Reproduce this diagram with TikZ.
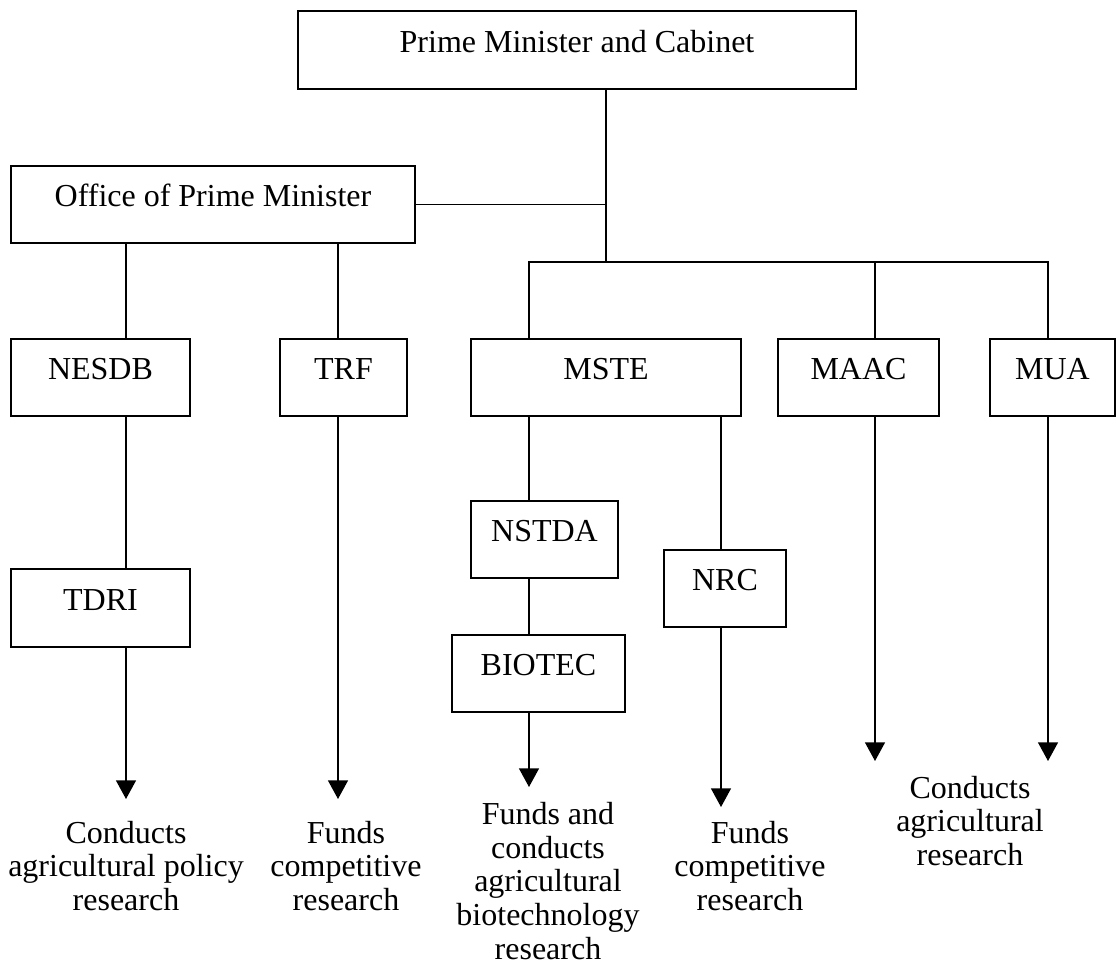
\documentclass[tikz,border=0pt]{standalone}
\usepackage{fontspec}
\setmainfont{Liberation Serif}
\usepackage{tikz}
\usetikzlibrary{arrows.meta}
\tikzset{
	unit/.style={draw, line width=0.75pt, inner xsep=0pt, inner ysep=0pt, text height=15.3pt, text depth=13.6pt, font=\fontsize{12}{12.6}\selectfont},
	link/.style={line width=0.5pt},
	flow/.style={line width=0.5pt, -{Triangle[length=7pt,width=7.5pt]}},
	note/.style={align=center, inner sep=0pt, font=\fontsize{12}{12.6}\selectfont}
}

\begin{document}
\begin{tikzpicture}[x=0.375pt, y=-0.375pt]
		%%%%% START %%%%%
		\useasboundingbox (0,0) rectangle (1117,962);
		
		\node[unit, minimum width=209.25pt] (pm) at (577,50) {Prime Minister and Cabinet};
		\node[unit, minimum width=151.5pt] (opm) at (213,204.5) {Office of Prime Minister};
		
		\node[unit, minimum width=67.1pt] (nesdb) at (100.5,377.5) {NESDB};
		\node[unit, minimum width=47.6pt] (trf) at (343.5,377.5) {TRF};
		\node[unit, minimum width=101.25pt] (mste) at (606,377.5) {MSTE};
		\node[unit, minimum width=60.4pt] (maac) at (858.5,377.5) {MAAC};
		\node[unit, minimum width=46.9pt] (mua) at (1052.5,377.5) {MUA};
		
		\node[unit, minimum width=67.1pt] (tdri) at (100.5,608) {TDRI};
		\node[unit, minimum width=55.1pt] (nstda) at (544.5,539.5) {NSTDA};
		\node[unit, minimum width=45.75pt] (nrc) at (725,588.5) {NRC};
		\node[unit, minimum width=64.9pt] (biotec) at (538.5,673.5) {BIOTEC};
		
		% columns of the connectors
		\coordinate (c1) at (126,0);
		\coordinate (c2) at (338,0);
		\coordinate (c3) at (529,0);
		\coordinate (c4) at (606,0);
		\coordinate (c5) at (721,0);
		\coordinate (c6) at (875,0);
		\coordinate (c7) at (1048,0);
		\coordinate (bar) at (606,262);
		
		% arrow ends
		\coordinate (e1) at (126,799);
		\coordinate (e2) at (338,799);
		\coordinate (e3) at (529,787);
		\coordinate (e5) at (721,807);
		\coordinate (e6) at (875,761);
		\coordinate (e7) at (1048,761);
		
		\draw[link] (pm.south -| c4) -- (c4 |- bar);
		\draw[link] (opm.east) -- (opm.east -| c4);
		\draw[link] (mste.north -| c3) -- (c3 |- bar) -- (c7 |- bar) -- (mua.north -| c7);
		\draw[link] (c6 |- bar) -- (maac.north -| c6);
		
		\draw[link] (opm.south -| c1) -- (nesdb.north -| c1);
		\draw[link] (nesdb.south -| c1) -- (tdri.north -| c1);
		\draw[flow] (tdri.south -| c1) -- (e1);
		
		\draw[link] (opm.south -| c2) -- (trf.north -| c2);
		\draw[flow] (trf.south -| c2) -- (e2);
		
		\draw[link] (mste.south -| c3) -- (nstda.north -| c3);
		\draw[link] (nstda.south -| c3) -- (biotec.north -| c3);
		\draw[flow] (biotec.south -| c3) -- (e3);
		
		\draw[link] (mste.south -| c5) -- (nrc.north -| c5);
		\draw[flow] (nrc.south -| c5) -- (e5);
		
		\draw[flow] (maac.south -| c6) -- (e6);
		\draw[flow] (mua.south -| c7) -- (e7);
		
		\node[note] (t1) at (126,866) {Conducts\\agricultural policy\\research};
		\node[note] (t2) at (346,866) {Funds\\competitive\\research};
		\node[note] (t3) at (548,881) {Funds and\\conducts\\agricultural\\biotechnology\\research};
		\node[note] (t4) at (750,866) {Funds\\competitive\\research};
		\node[note] (t5) at (970,821) {Conducts\\agricultural\\research};
		%%%%% END %%%%%
\end{tikzpicture}
\end{document}
